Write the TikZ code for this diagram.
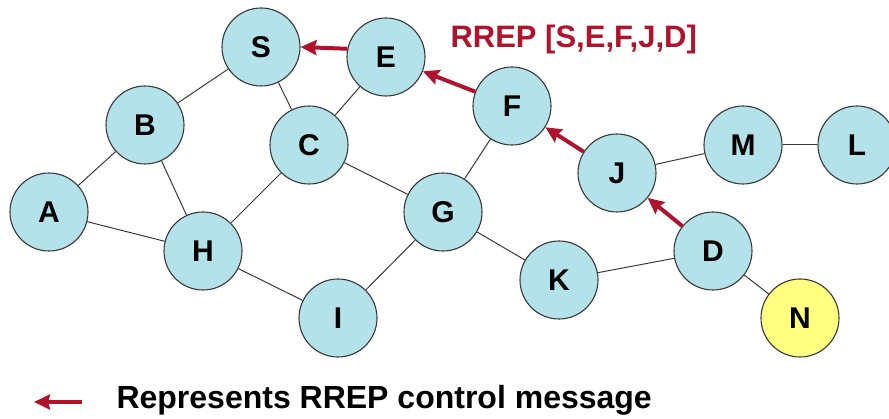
\documentclass[tikz,border=0pt]{standalone}
\usepackage{fontspec}
\setmainfont{Liberation Sans}
\usetikzlibrary{arrows.meta}
\usetikzlibrary{positioning}
\definecolor{drop}{HTML}{B4E2EA}
\definecolor{lone}{HTML}{FFFF80}
\definecolor{rrep}{HTML}{B1122C}
\definecolor{wire}{HTML}{3A3A3A}

\begin{document}
\begin{tikzpicture}[x=1pt,y=-1pt,
    host/.style={circle, draw=wire, line width=1.1pt, fill=drop,
        minimum size=78pt, inner sep=0pt,
        font=\fontsize{30}{30}\selectfont\bfseries},
    link/.style={draw=wire, line width=1pt},
    reply/.style={draw=rrep, line width=4pt,
        -{Stealth[length=16pt,width=15pt,inset=2pt]}}]
    \useasboundingbox (0,0) rectangle (889,419);

    \node[host] (S) at (261,47) {S};
    \node[host] (E) at (386,57) {E};
    \node[host] (F) at (512,106) {F};
    \node[host] (B) at (145,125) {B};
    \node[host] (C) at (309,145) {C};
    \node[host] (A) at (49,212) {A};
    \node[host] (H) at (203,251) {H};
    \node[host] (G) at (443,212) {G};
    \node[host] (I) at (338,318) {I};
    \node[host] (K) at (559,280) {K};
    \node[host] (J) at (617,173) {J};
    \node[host] (M) at (743,145) {M};
    \node[host] (L) at (857,145) {L};
    \node[host] (D) at (713,251) {D};
    \node[host, fill=lone] (N) at (800,318) {N};

    \draw[link] (S) -- (B);
    \draw[link] (S) -- (C);
    \draw[link] (E) -- (C);
    \draw[link] (B) -- (A);
    \draw[link] (B) -- (H);
    \draw[link] (A) -- (H);
    \draw[link] (C) -- (H);
    \draw[link] (C) -- (G);
    \draw[link] (H) -- (I);
    \draw[link] (G) -- (F);
    \draw[link] (G) -- (I);
    \draw[link] (G) -- (K);
    \draw[link] (K) -- (D);
    \draw[link] (D) -- (N);
    \draw[link] (J) -- (M);
    \draw[link] (M) -- (L);

    \draw[reply] (E.168) -- (S.east);
    \draw[reply] (F) -- (E);
    \draw[reply] (J) -- (F);
    \draw[reply] (D) -- (J);

    \node[anchor=base west, text=rrep,
        font=\fontsize{31}{31}\selectfont\bfseries] (path) at (447,48)
        {RREP [S,E,F,J,D]};

    \coordinate (keytail) at (82,402);
    \coordinate (keyhead) at (34,402);
    \draw[reply] (keytail) -- (keyhead);
    \node[anchor=base west, font=\fontsize{32}{32}\selectfont\bfseries]
        (key) at (113,409) {Represents RREP control message};
\end{tikzpicture}
\end{document}
